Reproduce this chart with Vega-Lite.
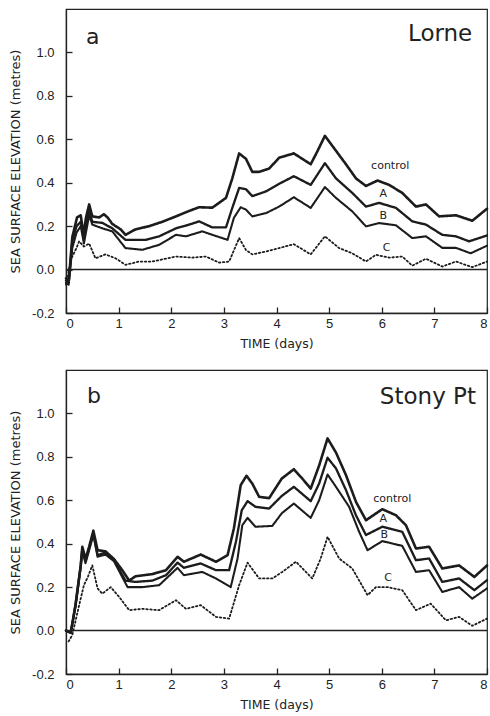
{
  "$schema": "https://vega.github.io/schema/vega-lite/v6.json",
  "padding": {"left": 8, "top": 8, "right": 1, "bottom": 1},
  "background": "white",
  "spacing": 18,
  "config": {
    "view": {"stroke": "#222", "strokeWidth": 1.2},
    "font": "DejaVu Sans",
    "axis": {
      "grid": false,
      "domainColor": "#222",
      "domainWidth": 1.3,
      "tickColor": "#222",
      "tickSize": -6,
      "tickWidth": 1.3,
      "labelFont": "Liberation Sans",
      "labelFontSize": 13,
      "labelColor": "#222",
      "titleFont": "DejaVu Sans",
      "titleFontSize": 12.5,
      "titleFontWeight": "normal",
      "titleColor": "#222"
    }
  },
  "datasets": {
    "curves": [
      {"p":"a","s":"control","t":0,"v":-0.04},{"p":"a","s":"control","t":0.05,"v":-0.06},{"p":"a","s":"control","t":0.12,"v":0.15},{"p":"a","s":"control","t":0.17,"v":0.2},{"p":"a","s":"control","t":0.21,"v":0.24},{"p":"a","s":"control","t":0.28,"v":0.25},{"p":"a","s":"control","t":0.31,"v":0.2},{"p":"a","s":"control","t":0.34,"v":0.17},{"p":"a","s":"control","t":0.38,"v":0.24},{"p":"a","s":"control","t":0.44,"v":0.3},{"p":"a","s":"control","t":0.5,"v":0.245},{"p":"a","s":"control","t":0.63,"v":0.24},{"p":"a","s":"control","t":0.72,"v":0.255},{"p":"a","s":"control","t":0.79,"v":0.24},{"p":"a","s":"control","t":0.88,"v":0.21},{"p":"a","s":"control","t":1.04,"v":0.185},{"p":"a","s":"control","t":1.13,"v":0.16},{"p":"a","s":"control","t":1.32,"v":0.185},{"p":"a","s":"control","t":1.58,"v":0.2},{"p":"a","s":"control","t":1.83,"v":0.22},{"p":"a","s":"control","t":2.09,"v":0.245},{"p":"a","s":"control","t":2.34,"v":0.27},{"p":"a","s":"control","t":2.53,"v":0.287},{"p":"a","s":"control","t":2.78,"v":0.285},{"p":"a","s":"control","t":3.04,"v":0.33},{"p":"a","s":"control","t":3.16,"v":0.42},{"p":"a","s":"control","t":3.29,"v":0.535},{"p":"a","s":"control","t":3.42,"v":0.51},{"p":"a","s":"control","t":3.54,"v":0.45},{"p":"a","s":"control","t":3.67,"v":0.45},{"p":"a","s":"control","t":3.86,"v":0.465},{"p":"a","s":"control","t":4.05,"v":0.515},{"p":"a","s":"control","t":4.33,"v":0.535},{"p":"a","s":"control","t":4.49,"v":0.51},{"p":"a","s":"control","t":4.65,"v":0.485},{"p":"a","s":"control","t":4.78,"v":0.546},{"p":"a","s":"control","t":4.92,"v":0.616},{"p":"a","s":"control","t":5.06,"v":0.57},{"p":"a","s":"control","t":5.32,"v":0.485},{"p":"a","s":"control","t":5.51,"v":0.42},{"p":"a","s":"control","t":5.7,"v":0.385},{"p":"a","s":"control","t":5.92,"v":0.41},{"p":"a","s":"control","t":6.14,"v":0.39},{"p":"a","s":"control","t":6.39,"v":0.353},{"p":"a","s":"control","t":6.65,"v":0.29},{"p":"a","s":"control","t":6.84,"v":0.3},{"p":"a","s":"control","t":7.09,"v":0.245},{"p":"a","s":"control","t":7.41,"v":0.25},{"p":"a","s":"control","t":7.72,"v":0.225},{"p":"a","s":"control","t":8,"v":0.28},
      {"p":"a","s":"A","t":0,"v":-0.05},{"p":"a","s":"A","t":0.05,"v":-0.06},{"p":"a","s":"A","t":0.12,"v":0.13},{"p":"a","s":"A","t":0.2,"v":0.2},{"p":"a","s":"A","t":0.28,"v":0.22},{"p":"a","s":"A","t":0.34,"v":0.15},{"p":"a","s":"A","t":0.44,"v":0.27},{"p":"a","s":"A","t":0.5,"v":0.22},{"p":"a","s":"A","t":0.69,"v":0.215},{"p":"a","s":"A","t":0.88,"v":0.19},{"p":"a","s":"A","t":1.13,"v":0.137},{"p":"a","s":"A","t":1.52,"v":0.137},{"p":"a","s":"A","t":1.77,"v":0.153},{"p":"a","s":"A","t":2.09,"v":0.19},{"p":"a","s":"A","t":2.34,"v":0.207},{"p":"a","s":"A","t":2.53,"v":0.222},{"p":"a","s":"A","t":2.78,"v":0.194},{"p":"a","s":"A","t":3.04,"v":0.194},{"p":"a","s":"A","t":3.16,"v":0.284},{"p":"a","s":"A","t":3.29,"v":0.376},{"p":"a","s":"A","t":3.42,"v":0.37},{"p":"a","s":"A","t":3.54,"v":0.338},{"p":"a","s":"A","t":3.8,"v":0.36},{"p":"a","s":"A","t":4.05,"v":0.395},{"p":"a","s":"A","t":4.33,"v":0.43},{"p":"a","s":"A","t":4.65,"v":0.39},{"p":"a","s":"A","t":4.92,"v":0.49},{"p":"a","s":"A","t":5.13,"v":0.42},{"p":"a","s":"A","t":5.44,"v":0.353},{"p":"a","s":"A","t":5.7,"v":0.29},{"p":"a","s":"A","t":5.95,"v":0.307},{"p":"a","s":"A","t":6.27,"v":0.284},{"p":"a","s":"A","t":6.58,"v":0.222},{"p":"a","s":"A","t":6.84,"v":0.207},{"p":"a","s":"A","t":7.15,"v":0.16},{"p":"a","s":"A","t":7.41,"v":0.153},{"p":"a","s":"A","t":7.66,"v":0.13},{"p":"a","s":"A","t":8,"v":0.157},
      {"p":"a","s":"B","t":0,"v":-0.06},{"p":"a","s":"B","t":0.05,"v":-0.07},{"p":"a","s":"B","t":0.12,"v":0.1},{"p":"a","s":"B","t":0.2,"v":0.17},{"p":"a","s":"B","t":0.28,"v":0.2},{"p":"a","s":"B","t":0.34,"v":0.12},{"p":"a","s":"B","t":0.44,"v":0.25},{"p":"a","s":"B","t":0.5,"v":0.207},{"p":"a","s":"B","t":0.69,"v":0.19},{"p":"a","s":"B","t":0.88,"v":0.176},{"p":"a","s":"B","t":1.13,"v":0.099},{"p":"a","s":"B","t":1.45,"v":0.091},{"p":"a","s":"B","t":1.77,"v":0.114},{"p":"a","s":"B","t":2.09,"v":0.16},{"p":"a","s":"B","t":2.28,"v":0.153},{"p":"a","s":"B","t":2.59,"v":0.176},{"p":"a","s":"B","t":2.78,"v":0.16},{"p":"a","s":"B","t":3.07,"v":0.137},{"p":"a","s":"B","t":3.19,"v":0.238},{"p":"a","s":"B","t":3.32,"v":0.287},{"p":"a","s":"B","t":3.42,"v":0.276},{"p":"a","s":"B","t":3.54,"v":0.245},{"p":"a","s":"B","t":3.8,"v":0.26},{"p":"a","s":"B","t":4.05,"v":0.29},{"p":"a","s":"B","t":4.33,"v":0.333},{"p":"a","s":"B","t":4.65,"v":0.284},{"p":"a","s":"B","t":4.92,"v":0.38},{"p":"a","s":"B","t":5.13,"v":0.33},{"p":"a","s":"B","t":5.44,"v":0.268},{"p":"a","s":"B","t":5.7,"v":0.199},{"p":"a","s":"B","t":5.95,"v":0.214},{"p":"a","s":"B","t":6.27,"v":0.204},{"p":"a","s":"B","t":6.58,"v":0.145},{"p":"a","s":"B","t":6.84,"v":0.153},{"p":"a","s":"B","t":7.15,"v":0.1},{"p":"a","s":"B","t":7.41,"v":0.1},{"p":"a","s":"B","t":7.69,"v":0.075},{"p":"a","s":"B","t":8,"v":0.11},
      {"p":"a","s":"C","t":0,"v":-0.07},{"p":"a","s":"C","t":0.1,"v":0.05},{"p":"a","s":"C","t":0.2,"v":0.1},{"p":"a","s":"C","t":0.25,"v":0.13},{"p":"a","s":"C","t":0.34,"v":0.106},{"p":"a","s":"C","t":0.44,"v":0.12},{"p":"a","s":"C","t":0.56,"v":0.052},{"p":"a","s":"C","t":0.75,"v":0.07},{"p":"a","s":"C","t":0.94,"v":0.052},{"p":"a","s":"C","t":1.13,"v":0.022},{"p":"a","s":"C","t":1.39,"v":0.037},{"p":"a","s":"C","t":1.64,"v":0.037},{"p":"a","s":"C","t":2.09,"v":0.06},{"p":"a","s":"C","t":2.4,"v":0.055},{"p":"a","s":"C","t":2.66,"v":0.06},{"p":"a","s":"C","t":2.91,"v":0.032},{"p":"a","s":"C","t":3.1,"v":0.037},{"p":"a","s":"C","t":3.29,"v":0.145},{"p":"a","s":"C","t":3.42,"v":0.09},{"p":"a","s":"C","t":3.54,"v":0.07},{"p":"a","s":"C","t":3.8,"v":0.083},{"p":"a","s":"C","t":4.05,"v":0.099},{"p":"a","s":"C","t":4.33,"v":0.117},{"p":"a","s":"C","t":4.65,"v":0.07},{"p":"a","s":"C","t":4.92,"v":0.153},{"p":"a","s":"C","t":5.19,"v":0.099},{"p":"a","s":"C","t":5.44,"v":0.075},{"p":"a","s":"C","t":5.7,"v":0.037},{"p":"a","s":"C","t":5.89,"v":0.068},{"p":"a","s":"C","t":6.14,"v":0.055},{"p":"a","s":"C","t":6.39,"v":0.06},{"p":"a","s":"C","t":6.58,"v":0.018},{"p":"a","s":"C","t":6.84,"v":0.05},{"p":"a","s":"C","t":7.15,"v":0.014},{"p":"a","s":"C","t":7.41,"v":0.037},{"p":"a","s":"C","t":7.72,"v":0.011},{"p":"a","s":"C","t":8,"v":0.037},
      {"p":"b","s":"control","t":0,"v":0},{"p":"b","s":"control","t":0.09,"v":-0.01},{"p":"b","s":"control","t":0.18,"v":0.117},{"p":"b","s":"control","t":0.28,"v":0.3},{"p":"b","s":"control","t":0.31,"v":0.386},{"p":"b","s":"control","t":0.37,"v":0.33},{"p":"b","s":"control","t":0.44,"v":0.386},{"p":"b","s":"control","t":0.52,"v":0.46},{"p":"b","s":"control","t":0.6,"v":0.37},{"p":"b","s":"control","t":0.75,"v":0.365},{"p":"b","s":"control","t":0.91,"v":0.33},{"p":"b","s":"control","t":1.07,"v":0.278},{"p":"b","s":"control","t":1.2,"v":0.23},{"p":"b","s":"control","t":1.32,"v":0.25},{"p":"b","s":"control","t":1.64,"v":0.26},{"p":"b","s":"control","t":1.9,"v":0.278},{"p":"b","s":"control","t":2.12,"v":0.34},{"p":"b","s":"control","t":2.24,"v":0.317},{"p":"b","s":"control","t":2.56,"v":0.35},{"p":"b","s":"control","t":2.85,"v":0.317},{"p":"b","s":"control","t":3.07,"v":0.347},{"p":"b","s":"control","t":3.19,"v":0.47},{"p":"b","s":"control","t":3.32,"v":0.67},{"p":"b","s":"control","t":3.43,"v":0.713},{"p":"b","s":"control","t":3.54,"v":0.677},{"p":"b","s":"control","t":3.67,"v":0.616},{"p":"b","s":"control","t":3.86,"v":0.61},{"p":"b","s":"control","t":4.1,"v":0.7},{"p":"b","s":"control","t":4.33,"v":0.743},{"p":"b","s":"control","t":4.49,"v":0.7},{"p":"b","s":"control","t":4.65,"v":0.654},{"p":"b","s":"control","t":4.81,"v":0.76},{"p":"b","s":"control","t":4.97,"v":0.885},{"p":"b","s":"control","t":5.13,"v":0.82},{"p":"b","s":"control","t":5.32,"v":0.716},{"p":"b","s":"control","t":5.51,"v":0.593},{"p":"b","s":"control","t":5.7,"v":0.508},{"p":"b","s":"control","t":6.01,"v":0.559},{"p":"b","s":"control","t":6.27,"v":0.531},{"p":"b","s":"control","t":6.46,"v":0.485},{"p":"b","s":"control","t":6.65,"v":0.378},{"p":"b","s":"control","t":6.9,"v":0.386},{"p":"b","s":"control","t":7.15,"v":0.286},{"p":"b","s":"control","t":7.47,"v":0.3},{"p":"b","s":"control","t":7.76,"v":0.247},{"p":"b","s":"control","t":8,"v":0.3},
      {"p":"b","s":"A","t":0,"v":0},{"p":"b","s":"A","t":0.09,"v":-0.01},{"p":"b","s":"A","t":0.18,"v":0.117},{"p":"b","s":"A","t":0.28,"v":0.3},{"p":"b","s":"A","t":0.31,"v":0.38},{"p":"b","s":"A","t":0.37,"v":0.32},{"p":"b","s":"A","t":0.44,"v":0.38},{"p":"b","s":"A","t":0.52,"v":0.45},{"p":"b","s":"A","t":0.6,"v":0.347},{"p":"b","s":"A","t":0.75,"v":0.36},{"p":"b","s":"A","t":0.91,"v":0.325},{"p":"b","s":"A","t":1.13,"v":0.23},{"p":"b","s":"A","t":1.32,"v":0.224},{"p":"b","s":"A","t":1.64,"v":0.23},{"p":"b","s":"A","t":1.9,"v":0.255},{"p":"b","s":"A","t":2.12,"v":0.313},{"p":"b","s":"A","t":2.24,"v":0.289},{"p":"b","s":"A","t":2.56,"v":0.309},{"p":"b","s":"A","t":2.85,"v":0.278},{"p":"b","s":"A","t":3.1,"v":0.278},{"p":"b","s":"A","t":3.23,"v":0.41},{"p":"b","s":"A","t":3.34,"v":0.554},{"p":"b","s":"A","t":3.45,"v":0.596},{"p":"b","s":"A","t":3.6,"v":0.57},{"p":"b","s":"A","t":3.86,"v":0.562},{"p":"b","s":"A","t":4.1,"v":0.62},{"p":"b","s":"A","t":4.33,"v":0.662},{"p":"b","s":"A","t":4.65,"v":0.596},{"p":"b","s":"A","t":4.81,"v":0.677},{"p":"b","s":"A","t":4.97,"v":0.796},{"p":"b","s":"A","t":5.13,"v":0.747},{"p":"b","s":"A","t":5.32,"v":0.647},{"p":"b","s":"A","t":5.51,"v":0.531},{"p":"b","s":"A","t":5.7,"v":0.44},{"p":"b","s":"A","t":6.01,"v":0.478},{"p":"b","s":"A","t":6.39,"v":0.455},{"p":"b","s":"A","t":6.65,"v":0.324},{"p":"b","s":"A","t":6.9,"v":0.332},{"p":"b","s":"A","t":7.15,"v":0.224},{"p":"b","s":"A","t":7.47,"v":0.24},{"p":"b","s":"A","t":7.76,"v":0.186},{"p":"b","s":"A","t":8,"v":0.232},
      {"p":"b","s":"B","t":0,"v":0},{"p":"b","s":"B","t":0.09,"v":-0.01},{"p":"b","s":"B","t":0.18,"v":0.11},{"p":"b","s":"B","t":0.28,"v":0.29},{"p":"b","s":"B","t":0.31,"v":0.37},{"p":"b","s":"B","t":0.37,"v":0.31},{"p":"b","s":"B","t":0.44,"v":0.37},{"p":"b","s":"B","t":0.52,"v":0.44},{"p":"b","s":"B","t":0.6,"v":0.34},{"p":"b","s":"B","t":0.75,"v":0.35},{"p":"b","s":"B","t":0.91,"v":0.32},{"p":"b","s":"B","t":1.17,"v":0.2},{"p":"b","s":"B","t":1.45,"v":0.2},{"p":"b","s":"B","t":1.77,"v":0.209},{"p":"b","s":"B","t":2.12,"v":0.289},{"p":"b","s":"B","t":2.24,"v":0.255},{"p":"b","s":"B","t":2.59,"v":0.27},{"p":"b","s":"B","t":2.85,"v":0.24},{"p":"b","s":"B","t":3.13,"v":0.2},{"p":"b","s":"B","t":3.26,"v":0.332},{"p":"b","s":"B","t":3.35,"v":0.485},{"p":"b","s":"B","t":3.45,"v":0.519},{"p":"b","s":"B","t":3.6,"v":0.478},{"p":"b","s":"B","t":3.92,"v":0.482},{"p":"b","s":"B","t":4.1,"v":0.54},{"p":"b","s":"B","t":4.33,"v":0.585},{"p":"b","s":"B","t":4.65,"v":0.519},{"p":"b","s":"B","t":4.81,"v":0.6},{"p":"b","s":"B","t":4.97,"v":0.719},{"p":"b","s":"B","t":5.13,"v":0.662},{"p":"b","s":"B","t":5.38,"v":0.57},{"p":"b","s":"B","t":5.57,"v":0.455},{"p":"b","s":"B","t":5.73,"v":0.37},{"p":"b","s":"B","t":6.01,"v":0.412},{"p":"b","s":"B","t":6.39,"v":0.39},{"p":"b","s":"B","t":6.65,"v":0.27},{"p":"b","s":"B","t":6.9,"v":0.278},{"p":"b","s":"B","t":7.15,"v":0.178},{"p":"b","s":"B","t":7.47,"v":0.2},{"p":"b","s":"B","t":7.72,"v":0.147},{"p":"b","s":"B","t":8,"v":0.194},
      {"p":"b","s":"C","t":0.05,"v":-0.05},{"p":"b","s":"C","t":0.12,"v":-0.02},{"p":"b","s":"C","t":0.25,"v":0.117},{"p":"b","s":"C","t":0.34,"v":0.209},{"p":"b","s":"C","t":0.42,"v":0.25},{"p":"b","s":"C","t":0.5,"v":0.3},{"p":"b","s":"C","t":0.6,"v":0.194},{"p":"b","s":"C","t":0.69,"v":0.17},{"p":"b","s":"C","t":0.85,"v":0.2},{"p":"b","s":"C","t":1.01,"v":0.155},{"p":"b","s":"C","t":1.2,"v":0.094},{"p":"b","s":"C","t":1.45,"v":0.1},{"p":"b","s":"C","t":1.77,"v":0.094},{"p":"b","s":"C","t":2.09,"v":0.14},{"p":"b","s":"C","t":2.28,"v":0.1},{"p":"b","s":"C","t":2.56,"v":0.117},{"p":"b","s":"C","t":2.85,"v":0.063},{"p":"b","s":"C","t":3.1,"v":0.055},{"p":"b","s":"C","t":3.29,"v":0.209},{"p":"b","s":"C","t":3.45,"v":0.313},{"p":"b","s":"C","t":3.67,"v":0.24},{"p":"b","s":"C","t":3.92,"v":0.24},{"p":"b","s":"C","t":4.11,"v":0.27},{"p":"b","s":"C","t":4.37,"v":0.317},{"p":"b","s":"C","t":4.68,"v":0.24},{"p":"b","s":"C","t":4.84,"v":0.332},{"p":"b","s":"C","t":4.97,"v":0.432},{"p":"b","s":"C","t":5.19,"v":0.332},{"p":"b","s":"C","t":5.44,"v":0.286},{"p":"b","s":"C","t":5.73,"v":0.163},{"p":"b","s":"C","t":5.89,"v":0.2},{"p":"b","s":"C","t":6.11,"v":0.2},{"p":"b","s":"C","t":6.39,"v":0.186},{"p":"b","s":"C","t":6.65,"v":0.094},{"p":"b","s":"C","t":6.93,"v":0.124},{"p":"b","s":"C","t":7.22,"v":0.047},{"p":"b","s":"C","t":7.47,"v":0.063},{"p":"b","s":"C","t":7.72,"v":0.022},{"p":"b","s":"C","t":8,"v":0.055}
    ],
    "notes": [
      {"p":"a","k":"curve","t":6.16,"v":0.477,"label":"control"},
      {"p":"a","k":"curve","t":6.03,"v":0.346,"label":"A"},
      {"p":"a","k":"curve","t":6.03,"v":0.245,"label":"B"},
      {"p":"a","k":"curve","t":6.09,"v":0.1,"label":"C"},
      {"p":"a","k":"letter","t":0.38,"v":1.07,"label":"a"},
      {"p":"a","k":"name","t":7.72,"v":1.083,"label":"Lorne"},
      {"p":"b","k":"curve","t":6.2,"v":0.608,"label":"control"},
      {"p":"b","k":"curve","t":6.03,"v":0.516,"label":"A"},
      {"p":"b","k":"curve","t":6.05,"v":0.44,"label":"B"},
      {"p":"b","k":"curve","t":6.12,"v":0.243,"label":"C"},
      {"p":"b","k":"letter","t":0.4,"v":1.08,"label":"b"},
      {"p":"b","k":"name","t":7.79,"v":1.074,"label":"Stony Pt"}
    ]
  },
  "vconcat": [
    {
      "width": 421,
      "height": 304,
      "layer": [
        {
          "data": {"name": "curves"},
          "transform": [{"filter": "datum.p === 'a'"}],
          "mark": {"type": "line", "color": "#1c1c1c", "strokeJoin": "round", "strokeCap": "round"},
          "encoding": {
            "x": {"field": "t", "type": "quantitative", "scale": {"domain": [0, 8], "nice": false},
                  "axis": {"values": [0,1,2,3,4,5,6,7,8], "format": "d", "title": "TIME (days)", "labelPadding": 10, "titlePadding": 7}},
            "y": {"field": "v", "type": "quantitative", "scale": {"domain": [-0.2, 1.2], "nice": false},
                  "axis": {"values": [-0.2,0,0.2,0.4,0.6,0.8,1.0], "labelExpr": "replace(format(datum.value, '.1f'), '\u2212', '-')", "title": "SEA SURFACE ELEVATION (metres)", "titleFontSize": 13, "labelPadding": 18, "titlePadding": 9}},
            "detail": {"field": "s"},
            "strokeWidth": {"field": "s", "type": "nominal", "scale": {"domain": ["control","A","B","C"], "range": [2.6, 1.8, 1.2, 1.1]}, "legend": null},
            "strokeDash": {"field": "s", "type": "nominal", "scale": {"domain": ["control","A","B","C"], "range": [[1,0],[1,0],[1,0],[1.5,2.5]]}, "legend": null}
          }
        },
        {
          "data": {"values": [{"z": 0}]},
          "mark": {"type": "rule", "strokeWidth": 1.5, "color": "#222"},
          "encoding": {"y": {"field": "z", "type": "quantitative"}}
        },
        {
          "data": {"name": "notes"},
          "transform": [{"filter": "datum.p === 'a' && datum.k === 'curve'"}],
          "mark": {"type": "text", "fontSize": 11, "color": "#222", "baseline": "middle"},
          "encoding": {"x": {"field": "t", "type": "quantitative"}, "y": {"field": "v", "type": "quantitative"}, "text": {"field": "label"}}
        },
        {
          "data": {"name": "notes"},
          "transform": [{"filter": "datum.p === 'a' && datum.k === 'letter'"}],
          "mark": {"type": "text", "fontSize": 22, "color": "#222", "align": "left", "baseline": "middle"},
          "encoding": {"x": {"field": "t", "type": "quantitative"}, "y": {"field": "v", "type": "quantitative"}, "text": {"field": "label"}}
        },
        {
          "data": {"name": "notes"},
          "transform": [{"filter": "datum.p === 'a' && datum.k === 'name'"}],
          "mark": {"type": "text", "fontSize": 23, "color": "#222", "align": "right", "baseline": "middle"},
          "encoding": {"x": {"field": "t", "type": "quantitative"}, "y": {"field": "v", "type": "quantitative"}, "text": {"field": "label"}}
        }
      ]
    },
    {
      "width": 421,
      "height": 304,
      "layer": [
        {
          "data": {"name": "curves"},
          "transform": [{"filter": "datum.p === 'b'"}],
          "mark": {"type": "line", "color": "#1c1c1c", "strokeJoin": "round", "strokeCap": "round"},
          "encoding": {
            "x": {"field": "t", "type": "quantitative", "scale": {"domain": [0, 8], "nice": false},
                  "axis": {"values": [0,1,2,3,4,5,6,7,8], "format": "d", "title": "TIME (days)", "labelPadding": 10, "titlePadding": 7}},
            "y": {"field": "v", "type": "quantitative", "scale": {"domain": [-0.2, 1.2], "nice": false},
                  "axis": {"values": [-0.2,0,0.2,0.4,0.6,0.8,1.0], "labelExpr": "replace(format(datum.value, '.1f'), '\u2212', '-')", "title": "SEA SURFACE ELEVATION (metres)", "titleFontSize": 13, "labelPadding": 18, "titlePadding": 9}},
            "detail": {"field": "s"},
            "strokeWidth": {"field": "s", "type": "nominal", "scale": {"domain": ["control","A","B","C"], "range": [2.6, 1.8, 1.2, 1.1]}, "legend": null},
            "strokeDash": {"field": "s", "type": "nominal", "scale": {"domain": ["control","A","B","C"], "range": [[1,0],[1,0],[1,0],[1.5,2.5]]}, "legend": null}
          }
        },
        {
          "data": {"values": [{"z": 0}]},
          "mark": {"type": "rule", "strokeWidth": 1.5, "color": "#222"},
          "encoding": {"y": {"field": "z", "type": "quantitative"}}
        },
        {
          "data": {"name": "notes"},
          "transform": [{"filter": "datum.p === 'b' && datum.k === 'curve'"}],
          "mark": {"type": "text", "fontSize": 11, "color": "#222", "baseline": "middle"},
          "encoding": {"x": {"field": "t", "type": "quantitative"}, "y": {"field": "v", "type": "quantitative"}, "text": {"field": "label"}}
        },
        {
          "data": {"name": "notes"},
          "transform": [{"filter": "datum.p === 'b' && datum.k === 'letter'"}],
          "mark": {"type": "text", "fontSize": 22, "color": "#222", "align": "left", "baseline": "middle"},
          "encoding": {"x": {"field": "t", "type": "quantitative"}, "y": {"field": "v", "type": "quantitative"}, "text": {"field": "label"}}
        },
        {
          "data": {"name": "notes"},
          "transform": [{"filter": "datum.p === 'b' && datum.k === 'name'"}],
          "mark": {"type": "text", "fontSize": 23, "color": "#222", "align": "right", "baseline": "middle"},
          "encoding": {"x": {"field": "t", "type": "quantitative"}, "y": {"field": "v", "type": "quantitative"}, "text": {"field": "label"}}
        }
      ]
    }
  ]
}
